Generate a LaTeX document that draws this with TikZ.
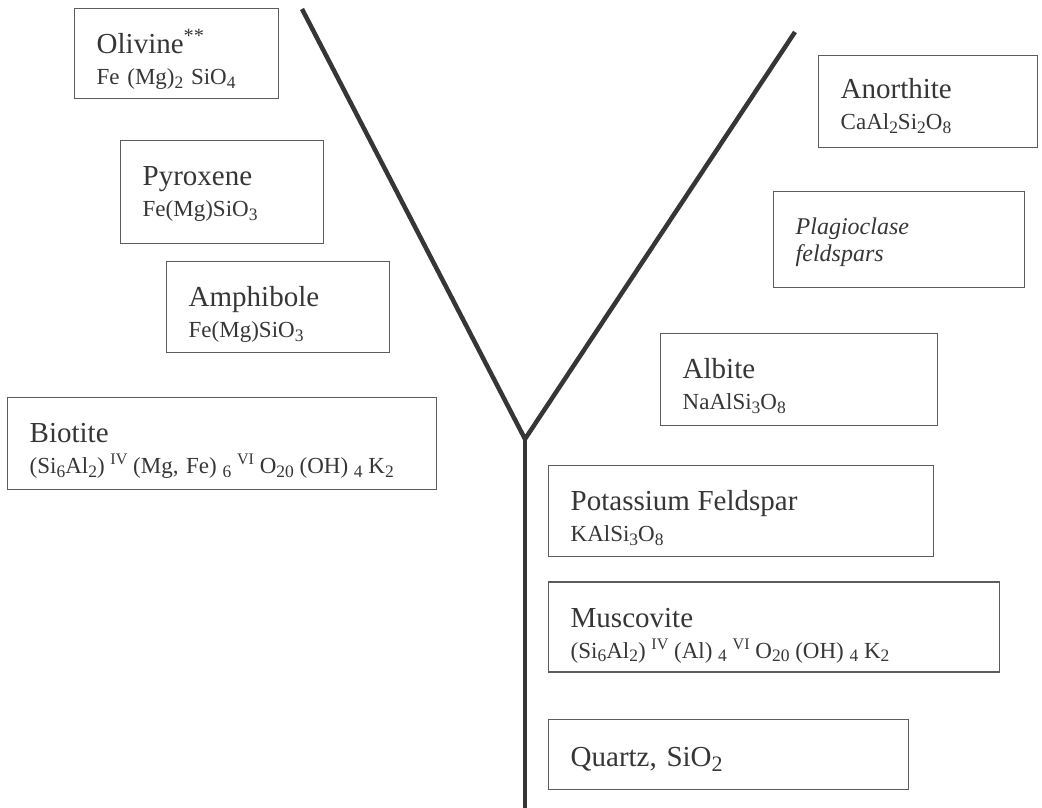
\documentclass[tikz,border=0pt]{standalone}
\usepackage{fontspec}
\setmainfont{Liberation Serif}
\usetikzlibrary{positioning}
\definecolor{inkgray}{HTML}{363636}
\definecolor{framegray}{HTML}{5C5C5C}
\newcommand\mname[1]{{\fontsize{29}{31}\selectfont #1}}
\newcommand\chsub[1]{\raisebox{-.35ex}{\scalebox{.76}{#1}}}
\newcommand\chsup[1]{\raisebox{.85ex}{\scalebox{.7}{#1}}}
\newcommand\gap{\hspace{.25em}}

\begin{document}
\begin{tikzpicture}[x=1pt, y=-1pt, text=inkgray,
	mineral/.style 2 args={draw=framegray, line width=1.4pt, anchor=north west, inner xsep=22pt, inner ysep=0pt, text width=#1, text height=45pt, text depth=#2, align=left, font=\fontsize{23}{31}\selectfont},
	yline/.style={draw=inkgray, line width=4.5pt, line join=miter}]
	\useasboundingbox (0,0) rectangle (1042,808);
	% left branch
	\node[mineral={160pt}{45pt}]	(olivine)	at (74,8)	{\mname{Olivine\chsup{**}}\\ Fe (Mg)\chsub{2} SiO\chsub{4}};
	\node[mineral={159pt}{58pt}]	(pyroxene)	at (120,140)	{\mname{Pyroxene}\\ Fe(Mg)SiO\chsub{3}};
	\node[mineral={179pt}{46pt}]	(amphibole)	at (166,261)	{\mname{Amphibole}\\ Fe(Mg)SiO\chsub{3}};
	\node[mineral={385pt}{47pt}]	(biotite)	at (7,397)	{\mname{Biotite}\\ (Si\chsub{6}Al\chsub{2})\gap\chsup{IV}\gap(Mg, Fe)\gap\chsub{6}\gap\chsup{VI}\gap O\chsub{20}\gap(OH)\gap\chsub{4}\gap K\chsub{2}};
	% right branch
	\node[mineral={175pt}{49pt}, text height=43pt]	(anorthite)	at (818,55)	{\mname{Anorthite}\\ CaAl\chsub{2}Si\chsub{2}O\chsub{8}};
	\node[mineral={207pt}{53pt}, text height=43pt, font=\fontsize{24}{27}\selectfont\itshape]	(plagioclase)	at (773,191)	{Plagioclase\\ feldspars};
	\node[mineral={233pt}{47pt}]	(albite)	at (660,333)	{\mname{Albite}\\ NaAlSi\chsub{3}O\chsub{8}};
	% stem
	\node[mineral={341pt}{46pt}]	(kfeldspar)	at (548,465)	{\mname{Potassium Feldspar}\\ KAlSi\chsub{3}O\chsub{8}};
	\node[mineral={407pt}{45pt}]	(muscovite)	[below=24pt of kfeldspar.south west, anchor=north west]	{\mname{Muscovite}\\ (Si\chsub{6}Al\chsub{2})\gap\chsup{IV}\gap(Al)\gap\chsub{4}\gap\chsup{VI}\gap O\chsub{20}\gap(OH)\gap\chsub{4}\gap K\chsub{2}};
	\node[mineral={316pt}{23pt}, text height=47pt, font=\fontsize{29}{31}\selectfont]	(quartz)	[below=46pt of muscovite.south west, anchor=north west]	{Quartz, SiO\chsub{2}};
	% the Y
	\coordinate (fork)	at (525,439);
	\coordinate (maficend)	at (302,9);
	\coordinate (felsicend)	at (795,32);
	\coordinate (stemend)	at (525,808);
	\draw[yline] (maficend) -- (fork) -- (felsicend);
	\draw[yline] (fork) -- (stemend);
\end{tikzpicture}
\end{document}
